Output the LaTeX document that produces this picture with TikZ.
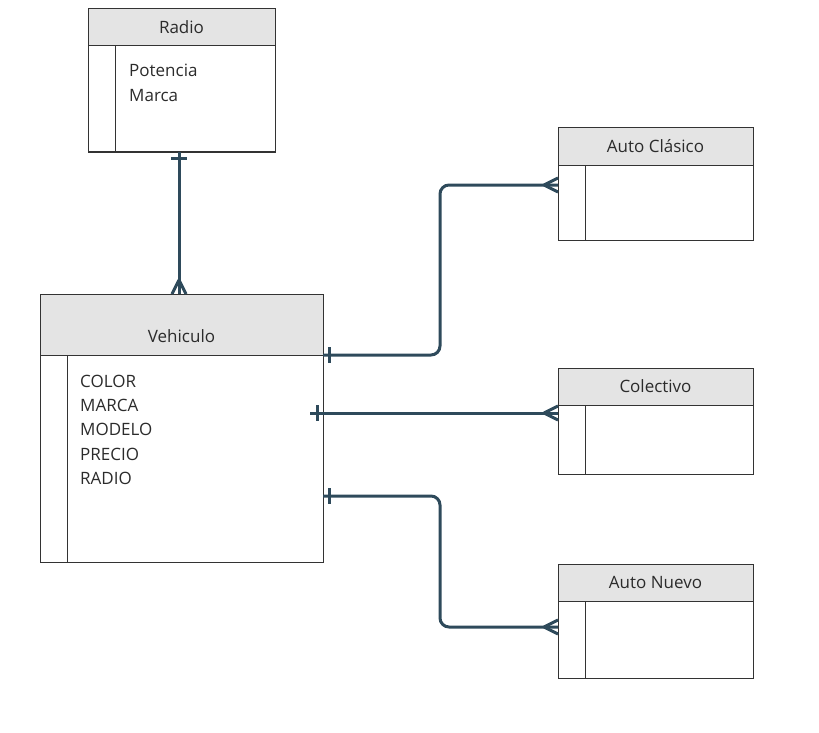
\documentclass[tikz,border=0pt]{standalone}
\usepackage{fontspec}
\setmainfont{Open Sans}
\usetikzlibrary{calc}
\definecolor{linkblue}{HTML}{2E4A5B}
\definecolor{headgray}{HTML}{E4E4E4}
\definecolor{boxline}{HTML}{333333}
\definecolor{inkgray}{HTML}{2B2B2B}

\begin{document}
\begin{tikzpicture}[x=1pt, y=-1pt,
  head/.style={draw=boxline, line width=1pt, fill=headgray, minimum height=37pt,
    anchor=north west, outer sep=0pt, inner sep=0pt, text height=11.5pt,
    text depth=0pt, font=\fontsize{17}{20}\selectfont, text=inkgray},
  body/.style={draw=boxline, line width=1pt, anchor=north west, outer sep=0pt},
  keyline/.style={draw=boxline, line width=1pt},
  attr/.style={anchor=base west, inner sep=0pt, font=\fontsize{17}{20}\selectfont,
    text=inkgray},
  link/.style={draw=linkblue, line width=3pt},
  bar/.pic={\draw[link] (0,-8) -- (0,8);},
  crow/.pic={\draw[link] (-14,0) -- (0,-7) (-14,0) -- (0,7);},
]
\useasboundingbox (0,0) rectangle (819,733);

% --- Radio ---
\node[head, minimum width=187pt] (radio) at (88,9) {Radio};
\node[body, minimum width=187pt, minimum height=106pt] (radiob) at (radio.south west) {};
\draw[keyline] ([xshift=27pt]radiob.north west) -- ([xshift=27pt]radiob.south west);
\node[attr] (potencia) at (129,77) {Potencia};
\node[attr] (marcar) at (129,102) {Marca};

% --- Vehiculo ---
\node[head, minimum width=283pt, minimum height=61pt, text height=35.5pt] (vehiculo)
  at (40,294) {Vehiculo};
\node[body, minimum width=283pt, minimum height=207pt] (vehiculob) at (vehiculo.south west) {};
\draw[keyline] ([xshift=27pt]vehiculob.north west) -- ([xshift=27pt]vehiculob.south west);
\node[attr] (color) at (80,387) {COLOR};
\node[attr] (marcav) at (80,411) {MARCA};
\node[attr] (modelo) at (80,435) {MODELO};
\node[attr] (precio) at (80,460) {PRECIO};
\node[attr] (radiov) at (80,484) {RADIO};

% --- Auto Clasico ---
\node[head, minimum width=195pt] (clasico) at (558,128) {Auto Clásico};
\node[body, minimum width=195pt, minimum height=75pt] (clasicob) at (clasico.south west) {};
\draw[keyline] ([xshift=27pt]clasicob.north west) -- ([xshift=27pt]clasicob.south west);

% --- Colectivo ---
\node[head, minimum width=195pt] (colectivo) at (558,368) {Colectivo};
\node[body, minimum width=195pt, minimum height=69pt] (colectivob) at (colectivo.south west) {};
\draw[keyline] ([xshift=27pt]colectivob.north west) -- ([xshift=27pt]colectivob.south west);

% --- Auto Nuevo ---
\node[head, minimum width=195pt] (nuevo) at (558,564) {Auto Nuevo};
\node[body, minimum width=195pt, minimum height=77pt] (nuevob) at (nuevo.south west) {};
\draw[keyline] ([xshift=27pt]nuevob.north west) -- ([xshift=27pt]nuevob.south west);

% Radio -- Vehiculo
\draw[link] ([xshift=-2.5pt]radiob.south) -- ([xshift=-2.5pt]vehiculo.north);
\pic[rotate=90] at ($(radiob.south)+(-2.5,6)$) {bar};
\pic[rotate=-90] at ([xshift=-2.5pt]vehiculo.north) {crow};

% Vehiculo -- Auto Clasico
\coordinate (s1) at (vehiculob.north east);
\coordinate (e1) at ($(clasicob.north west)+(0,20)$);
\draw[link, rounded corners=9pt] (s1) -| ($(e1)+(-118,0)$) -- (e1);
\pic at ($(s1)+(6,0)$) {bar};
\pic at (e1) {crow};

% Vehiculo -- Colectivo
\coordinate (e2) at ($(colectivob.north west)+(0,8)$);
\coordinate (s2) at ($(e2 -| vehiculob.east)+(-13,0)$);
\draw[link] (s2) -- (e2);
\pic at ($(s2)+(7,0)$) {bar};
\pic at (e2) {crow};

% Vehiculo -- Auto Nuevo
\coordinate (s3) at ($(vehiculob.north east)+(0,141)$);
\coordinate (e3) at ($(nuevob.north west)+(0,26)$);
\draw[link, rounded corners=9pt] (s3) -| ($(e3)+(-118,0)$) -- (e3);
\pic at ($(s3)+(6,0)$) {bar};
\pic at (e3) {crow};
\end{tikzpicture}
\end{document}
